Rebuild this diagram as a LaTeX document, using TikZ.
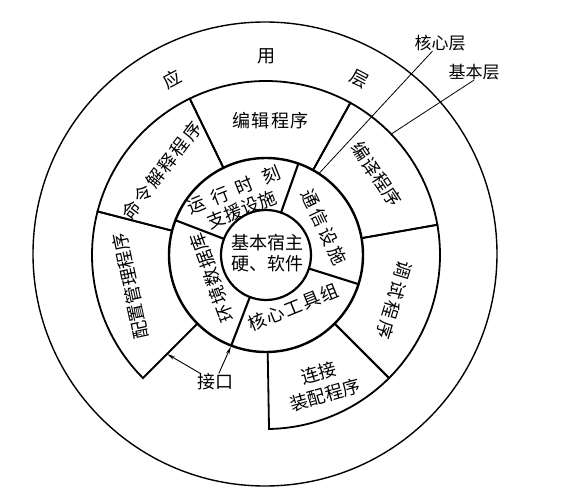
\documentclass[tikz,border=0pt]{standalone}
\usepackage{fontspec}
\setmainfont{Noto Sans CJK SC}
\usetikzlibrary{arrows.meta}
\begin{document}
\begin{tikzpicture}[
  lbl/.style={font=\fontsize{18}{21}\selectfont\addfontfeatures{LetterSpace=#1}, inner sep=0pt, align=center},
  lbl/.default=0,
  segline/.style={line width=1.8pt, line join=miter},
  coreline/.style={line width=2.4pt},
  outerline/.style={line width=1.4pt},
  callout/.style={line width=0.8pt},
  arr/.style={line width=0.9pt, -{Stealth[length=8pt,width=3.5pt]}},
]
\useasboundingbox (-266pt,-248pt) rectangle (311pt,255pt);
% application layer circle
\draw[outerline] (-1pt,1pt) circle[radius=232pt];
% basic layer segments
\foreach \a/\b in {61/116,116/165.5,165.5/225,271/315,315/370,370/421}
  \draw[segline] (\a:97pt) -- (\a:174pt) arc[start angle=\a, end angle=\b, radius=174pt] -- (\b:97pt);
% core layer
\draw[coreline] (0,0) circle[radius=97pt];
\draw[line width=2.2pt] (0,0) circle[radius=45pt];
\foreach \a in {70.5,-17.5,249,159}
  \draw[line width=2.1pt] (\a:45pt) -- (\a:97pt);
% application layer text
\node[lbl, rotate=28] (yy1) at (118:199pt) {应};
\node[lbl] (yy2) at (90:199pt) {用};
\node[lbl, rotate=-28] (yy3) at (62:199pt) {层};
% basic layer text
\node[lbl=8] (bj) at (88:134pt) {编辑程序};
\node[lbl=11, rotate=53] (ml) at (141:134pt) {命令解释程序};
\node[lbl, rotate=102] (pz) at (193:139pt) {配置管理程序};
\node[lbl=3, rotate=-56] (by) at (36:137pt) {编译程序};
\node[lbl=16, rotate=-107] (ts) at (-19.5:136pt) {调试程序};
\node[lbl=4, rotate=16, font=\fontsize{18}{23}\selectfont] (lj) at (-66.5:141pt) {连接\\装配程序};
% core layer text
\node[lbl, rotate=22] (yx) at (117:62pt) {运\hspace{8pt}行\hspace{8pt}时\hspace{11pt}刻\\支援设施};
\node[lbl=17, rotate=-64.5] (tx) at (25.6:64pt) {通信设施};
\node[lbl=9, rotate=22] (hx) at (-62.4:59pt) {核心工具组};
\node[lbl=5, rotate=110] (hj) at (202.6:58.5pt) {环境数据库};
\node[lbl] (jb) at (1pt,1.5pt) {基本宿主\\硬、软件};
% callouts
\node[lbl, font=\fontsize{17}{20}\selectfont] (kx) at (174pt,212pt) {核心层};
\node[lbl, font=\fontsize{17}{20}\selectfont] (jc) at (208pt,183pt) {基本层};
\coordinate (kxend) at (57:97pt);
\coordinate (jcend) at (44:174pt);
\draw[callout] (kx) -- (kxend);
\draw[callout] (jc.south) -- (jcend);
% interface
\node[lbl] (jk) at (-51pt,-127pt) {接口};
\coordinate (jk1) at (225:140pt);
\coordinate (jk2) at (249:98pt);
\draw[arr] (jk) -- (jk1);
\draw[arr] (jk) -- (jk2);
\end{tikzpicture}
\end{document}
